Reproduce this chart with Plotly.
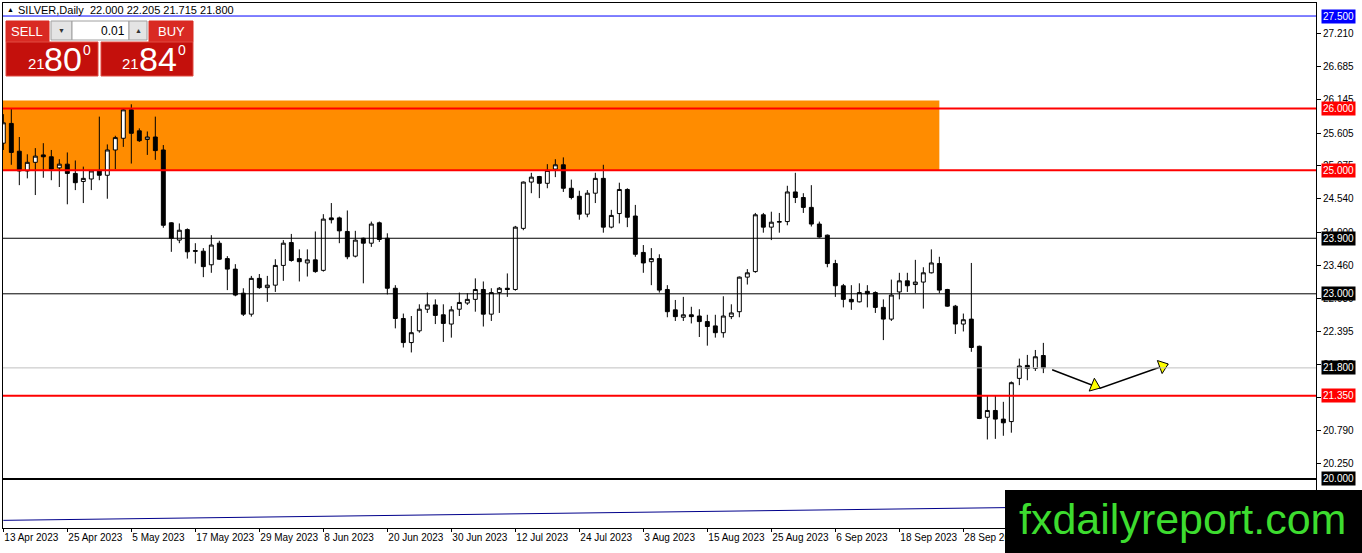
import plotly.graph_objects as go

# daily bars, 13 Apr 2023 .. 12 Oct 2023 (index 0..130)
open_ = [25.44, 25.76, 25.31, 24.99, 25.13, 25.25, 25.22, 25.04, 25.10, 24.95,
         24.82, 24.86, 24.99, 24.92, 25.33, 25.52, 25.98, 25.64, 25.50, 25.54,
         25.33, 24.15, 23.87, 24.04, 23.70, 23.69, 23.47, 23.82, 23.57, 23.40,
         23.01, 22.67, 23.25, 23.10, 23.14, 23.46, 23.83, 23.57, 23.50, 23.55,
         23.38, 24.23, 24.23, 24.01, 23.61, 23.90, 23.82, 24.15, 23.90, 23.09,
         22.60, 22.21, 22.40, 22.75, 22.82, 22.66, 22.51, 22.75, 22.85, 22.91,
         23.07, 22.67, 23.02, 23.09, 23.07, 24.06, 24.81, 24.90, 24.79, 25.02,
         25.09, 24.71, 24.58, 24.29, 24.63, 24.87, 24.08, 24.30, 24.69, 24.26,
         23.67, 23.52, 23.57, 23.07, 22.74, 22.62, 22.66, 22.64, 22.55, 22.48,
         22.37, 22.63, 22.71, 23.27, 23.36, 24.28, 24.08, 24.16, 24.17, 24.65,
         24.56, 24.40, 24.13, 23.95, 23.49, 23.13, 22.91, 22.87, 23.04, 23.02,
         22.78, 22.59, 23.03, 23.21, 23.15, 23.19, 23.34, 23.49, 23.07, 22.80,
         22.51, 22.59, 22.15, 21.00, 21.11, 20.97, 20.93, 21.63, 21.84, 21.79,
         22.000]
high = [25.91, 26.01, 25.54, 25.26, 25.36, 25.44, 25.33, 25.18, 25.29, 25.16,
        25.06, 25.00, 25.87, 25.42, 25.56, 26.00, 26.07, 25.68, 25.63, 25.87,
        25.41, 24.16, 24.14, 24.06, 23.82, 23.74, 23.95, 23.86, 23.61, 23.48,
        23.09, 23.29, 23.32, 23.29, 23.56, 23.87, 23.97, 23.72, 23.72, 24.01,
        24.29, 24.47, 24.25, 24.35, 24.02, 23.91, 24.17, 24.17, 23.98, 23.14,
        22.68, 22.64, 22.83, 23.02, 22.91, 22.83, 22.80, 23.02, 23.01, 23.25,
        23.20, 23.09, 23.11, 23.33, 24.10, 24.82, 24.96, 24.91, 25.10, 25.18,
        25.21, 24.85, 24.67, 24.68, 24.96, 25.09, 24.36, 24.80, 24.71, 24.44,
        23.79, 23.74, 23.64, 23.14, 22.90, 22.95, 22.79, 22.75, 22.66, 22.66,
        22.96, 22.83, 23.28, 23.40, 24.31, 24.31, 24.33, 24.31, 24.75, 24.96,
        24.63, 24.76, 24.17, 23.96, 23.55, 23.16, 23.14, 23.17, 23.14, 23.04,
        22.91, 23.23, 23.34, 23.34, 23.55, 23.43, 23.72, 23.60, 23.08, 22.82,
        22.68, 23.50, 22.16, 21.36, 21.36, 21.25, 21.58, 21.95, 22.01, 22.09,
        22.205]
low = [25.33, 25.09, 24.76, 24.87, 24.60, 24.88, 24.84, 24.73, 24.45, 24.68,
       24.47, 24.68, 24.84, 24.54, 25.02, 25.38, 25.11, 25.46, 25.25, 25.17,
       24.07, 23.68, 23.82, 23.57, 23.49, 23.27, 23.34, 23.55, 23.06, 22.96,
       22.64, 22.63, 23.08, 22.87, 23.03, 23.21, 23.52, 23.20, 23.28, 23.34,
       23.36, 24.14, 23.82, 23.56, 23.59, 23.17, 23.76, 23.84, 22.99, 22.44,
       22.13, 22.05, 22.37, 22.69, 22.51, 22.22, 22.29, 22.64, 22.82, 22.71,
       22.47, 22.56, 22.69, 22.95, 23.05, 24.03, 24.63, 24.55, 24.71, 24.89,
       24.65, 24.53, 24.20, 24.24, 24.47, 23.99, 24.06, 24.14, 24.08, 23.60,
       23.34, 23.14, 23.02, 22.62, 22.56, 22.56, 22.52, 22.30, 22.16, 22.29,
       22.29, 22.59, 22.62, 23.15, 23.34, 23.99, 23.87, 23.99, 24.11, 24.47,
       24.31, 24.09, 23.91, 23.43, 22.95, 22.78, 22.74, 22.86, 22.78, 22.69,
       22.25, 22.56, 22.91, 23.03, 23.01, 22.76, 23.33, 23.01, 22.79, 22.35,
       22.39, 22.06, 20.97, 20.64, 20.65, 20.70, 20.75, 21.52, 21.60, 21.75,
       21.715]
close = [25.77, 25.29, 24.99, 25.13, 25.23, 25.22, 25.02, 25.10, 24.95, 24.80,
         24.87, 24.99, 24.92, 25.33, 25.53, 25.98, 25.60, 25.48, 25.54, 25.32,
         24.11, 23.90, 24.03, 23.68, 23.69, 23.44, 23.79, 23.56, 23.40, 22.98,
         22.67, 23.25, 23.10, 23.14, 23.46, 23.82, 23.54, 23.52, 23.55, 23.36,
         24.21, 24.20, 24.02, 23.60, 23.87, 23.82, 24.13, 23.88, 23.09, 22.60,
         22.21, 22.37, 22.75, 22.82, 22.65, 22.52, 22.74, 22.86, 22.91, 23.07,
         22.67, 23.02, 23.09, 23.07, 24.08, 24.81, 24.89, 24.79, 25.00, 25.09,
         24.71, 24.56, 24.29, 24.63, 24.87, 24.08, 24.27, 24.69, 24.24, 23.64,
         23.50, 23.57, 23.06, 22.71, 22.63, 22.66, 22.63, 22.55, 22.47, 22.37,
         22.64, 22.69, 23.27, 23.34, 24.28, 24.08, 24.16, 24.17, 24.65, 24.56,
         24.40, 24.13, 23.92, 23.49, 23.13, 22.91, 22.87, 23.02, 23.00, 22.78,
         22.59, 22.98, 23.21, 23.13, 23.19, 23.34, 23.50, 23.06, 22.80, 22.51,
         22.58, 22.13, 20.98, 21.11, 20.97, 20.91, 21.56, 21.83, 21.79, 21.98,
         21.800]

tick_labels = ["13 Apr 2023", "25 Apr 2023", "5 May 2023", "17 May 2023", "29 May 2023",
               "8 Jun 2023", "20 Jun 2023", "30 Jun 2023", "12 Jul 2023", "24 Jul 2023",
               "3 Aug 2023", "15 Aug 2023", "25 Aug 2023", "6 Sep 2023", "18 Sep 2023",
               "28 Sep 2023"]
tick_bars = [8 * i for i in range(len(tick_labels))]

price_ticks = [27.210, 26.685, 26.145, 25.605, 25.075, 24.540, 24.000, 23.460,
               22.930, 22.395, 21.855, 21.320, 20.790, 20.250]

# horizontal levels: price, line colour, width, label colour
levels = [(27.500, "#0000ff", 1, "#0000ff"),
          (26.000, "#ff0000", 2, "#ff0000"),
          (25.000, "#ff0000", 2, "#ff0000"),
          (23.900, "#000000", 1, "#000000"),
          (23.000, "#000000", 1, "#000000"),
          (21.800, "#c0c0c0", 1, "#000000"),
          (21.350, "#ff0000", 2, "#ff0000"),
          (20.000, "#000000", 2, "#000000")]

zone = (26.13, 25.00)          # orange supply zone
zone_end = 117
trend_x = [0, 164]
trend_y = [19.33, 19.60]
arrow_path_x = [131.1, 137.1, 145.6]
arrow_path_y = [21.77, 21.47, 21.86]

# pixel helpers (plot area is x 3..1316, y 3..528)
def px(x):
    return (x - 3) / 1313.0

def py(y):
    return (528 - y) / 525.0

fig = go.Figure()
fig.add_trace(go.Candlestick(
    x=list(range(len(close))), open=open_, high=high, low=low, close=close,
    increasing=dict(line=dict(color="black", width=1), fillcolor="white"),
    decreasing=dict(line=dict(color="black", width=1), fillcolor="black"),
    whiskerwidth=0, hoverinfo="skip", showlegend=False))

fig.add_trace(go.Scatter(x=trend_x, y=trend_y, mode="lines",
                         line=dict(color="#00008b", width=1),
                         hoverinfo="skip", showlegend=False))

# hand drawn arrows
fig.add_trace(go.Scatter(x=arrow_path_x, y=arrow_path_y, mode="lines",
                         line=dict(color="black", width=1.5),
                         hoverinfo="skip", showlegend=False))
fig.add_trace(go.Scatter(x=[136.4, 144.9], y=[21.51, 21.83], mode="markers",
                         marker=dict(symbol="triangle-up", size=12, color="#ffff00",
                                     angle=[112, 70], line=dict(color="black", width=1)),
                         hoverinfo="skip", showlegend=False))

shapes = [dict(type="rect", xref="x", yref="y", x0=-2, x1=zone_end, y0=zone[1], y1=zone[0],
               fillcolor="#ff8c00", line=dict(width=0), layer="below")]
for lv, col, w, _ in levels:
    shapes.append(dict(type="line", xref="paper", yref="y", x0=0, x1=1, y0=lv, y1=lv,
                       line=dict(color=col, width=w), layer="above"))

annotations = []
for lv, _, _, bg in levels:
    annotations.append(dict(xref="paper", yref="y", x=px(1321), y=lv, xanchor="left",
                            text="%.3f" % lv, showarrow=False, bgcolor=bg, borderpad=1,
                            font=dict(family="Liberation Sans", size=10, color="white")))

# trade panel
red_btn = "#d92a23"
red_box = "#c4100c"
panel = [(6, 49, 21, 42, red_btn, red_btn),
         (149, 193, 21, 42, red_btn, red_btn),
         (6, 98, 42, 76, red_box, "#e04a40"),
         (101, 193, 42, 76, red_box, "#e04a40"),
         (51, 72, 21, 40, "#e4e4e4", "#a0a0a0"),
         (72, 129, 21, 40, "#ffffff", "#a0a0a0"),
         (129, 147, 21, 40, "#e4e4e4", "#a0a0a0")]
for x0, x1, y0, y1, fc, lc in panel:
    shapes.append(dict(type="rect", xref="paper", yref="paper", x0=px(x0), x1=px(x1),
                       y0=py(y1), y1=py(y0), fillcolor=fc, line=dict(color=lc, width=1),
                       layer="above"))

# watermark box
shapes.append(dict(type="rect", xref="paper", yref="paper", x0=px(1005), x1=px(1370),
                   y0=py(560), y1=py(490), fillcolor="black", line=dict(width=0),
                   layer="above"))

def label(x, y, text, size, color="white", anchor="center", family="Liberation Sans"):
    annotations.append(dict(xref="paper", yref="paper", x=px(x), y=py(y), text=text,
                            xanchor=anchor, yanchor="middle", showarrow=False,
                            font=dict(family=family, size=size, color=color)))

label(10, 10, "▲", 7, "#000000")
label(16, 10, "SILVER,Daily\u00a0\u00a022.000 22.205 21.715 21.800", 11, "#000000", "left")
label(27.5, 31.5, "SELL", 13)
label(171, 31.5, "BUY", 13)
label(61.5, 30.5, "▼", 7, "#333333")
label(138, 30.5, "▲", 7, "#333333")
label(127, 30.5, "0.01", 12, "#000000", "right")
label(36, 64, "21", 15)
label(62.5, 58.5, "80", 34)
label(87, 50, "0", 14)
label(130, 64, "21", 15)
label(157.5, 58.5, "84", 34)
label(182, 50, "0", 14)
label(1182, 519, "fxdailyreport.com", 43, "#3ddc2f", "center", "Liberation Sans")

fig.update_layout(
    width=1362, height=553,
    margin=dict(l=3, r=46, t=3, b=25, autoexpand=False),
    paper_bgcolor="white", plot_bgcolor="white",
    showlegend=False, hovermode=False,
    shapes=shapes, annotations=annotations,
    font=dict(family="Liberation Sans", size=10, color="black"),
    xaxis=dict(range=[-0.04, 164.08], rangeslider=dict(visible=False),
               tickmode="array", tickvals=tick_bars, ticktext=tick_labels,
               ticklabelposition="outside right", tickangle=0, automargin=False,
               ticks="outside", ticklen=3,
               tickcolor="black", showgrid=False, zeroline=False,
               showline=True, linecolor="black", linewidth=1, mirror=True,
               tickfont=dict(size=10)),
    yaxis=dict(range=[19.206, 27.711], side="right", tickmode="array",
               tickvals=price_ticks, ticktext=["%.3f" % t for t in price_ticks],
               automargin=False,
               ticks="outside", ticklen=4, tickcolor="black", showgrid=False,
               zeroline=False, showline=True, linecolor="black", linewidth=1,
               mirror=True, tickfont=dict(size=10)),
)

fig.write_html("out.html", config={"displayModeBar": False},
               post_script="document.body.style.margin='0px';")
